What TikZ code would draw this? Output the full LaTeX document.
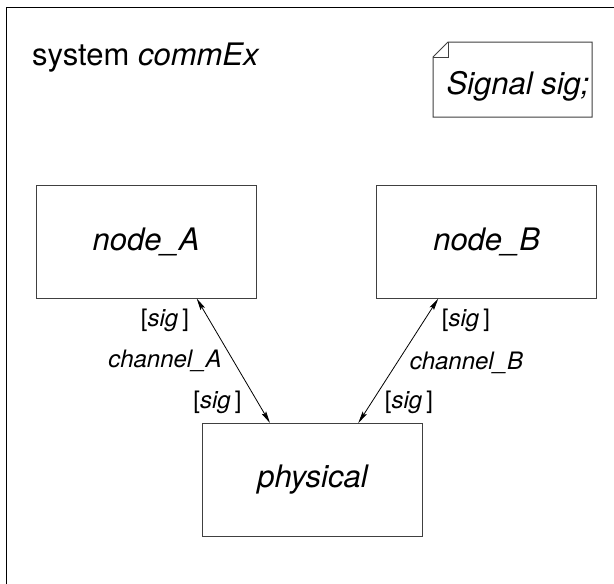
\documentclass[tikz,border=0pt]{standalone}
\usepackage{fontspec}
\setmainfont{TeX Gyre Heros}
\usetikzlibrary{arrows.meta}
\tikzset{
  blockbox/.style={draw=black!75, line width=1pt, rectangle, minimum width=220pt, minimum height=113pt, inner sep=0pt,
    font=\fontsize{31}{36}\selectfont\itshape},
  lbl/.style={inner sep=0pt, anchor=base, font=\fontsize{24}{28}\selectfont},
  conn/.style={line width=0.8pt, {Stealth[length=12pt,width=5pt,inset=2pt]}-{Stealth[length=12pt,width=5pt,inset=2pt]}},
}
\begin{document}
\begin{tikzpicture}[x=1pt,y=-1pt]
\useasboundingbox (0,0) rectangle (614,584);
\fill[white] (0,0) rectangle (614,584);
\draw[line width=1.4pt] (6.5,584) -- (6.5,7.5) -- (614,7.5);
\node[inner sep=0pt, anchor=base west, font=\fontsize{31}{36}\selectfont] (title) at (32,65) {system \textit{commEx}};
% note
\draw[draw=black!75, line width=1pt] (433,57) -- (448,42) -- (592,42) -- (592,117) -- (433,117) -- cycle;
\draw[draw=black!75, line width=1pt] (433,57) -- (448,57) -- (448,42);
\node[inner sep=0pt, anchor=base, font=\fontsize{31}{36}\selectfont\itshape] (note) at (518,94.3) {Signal sig;};
% blocks
\node[blockbox] (nA) at (146,241.5) {node\_A};
\node[blockbox] (nB) at (486.7,241.5) {node\_B};
\node[blockbox] (ph) at (312.5,480) {physical};
% connectors
\draw[conn] ([xshift=50.7pt]nA.south) -- ([xshift=-42.5pt]ph.north);
\draw[conn] ([xshift=-48.4pt]nB.south) -- ([xshift=45.8pt]ph.north);
% labels
\node[lbl] (a1) at (165,326) {[\textit{sig}\,]};
\node[lbl] (a2) at (165,367) {\textit{channel\_A}};
\node[lbl] (a3) at (217.5,408) {[\textit{sig}\,]};
\node[lbl] (b1) at (466,326) {[\textit{sig}\,]};
\node[lbl] (b2) at (466.5,369) {\textit{channel\_B}};
\node[lbl] (b3) at (409,408) {[\textit{sig}\,]};
\end{tikzpicture}
\end{document}
